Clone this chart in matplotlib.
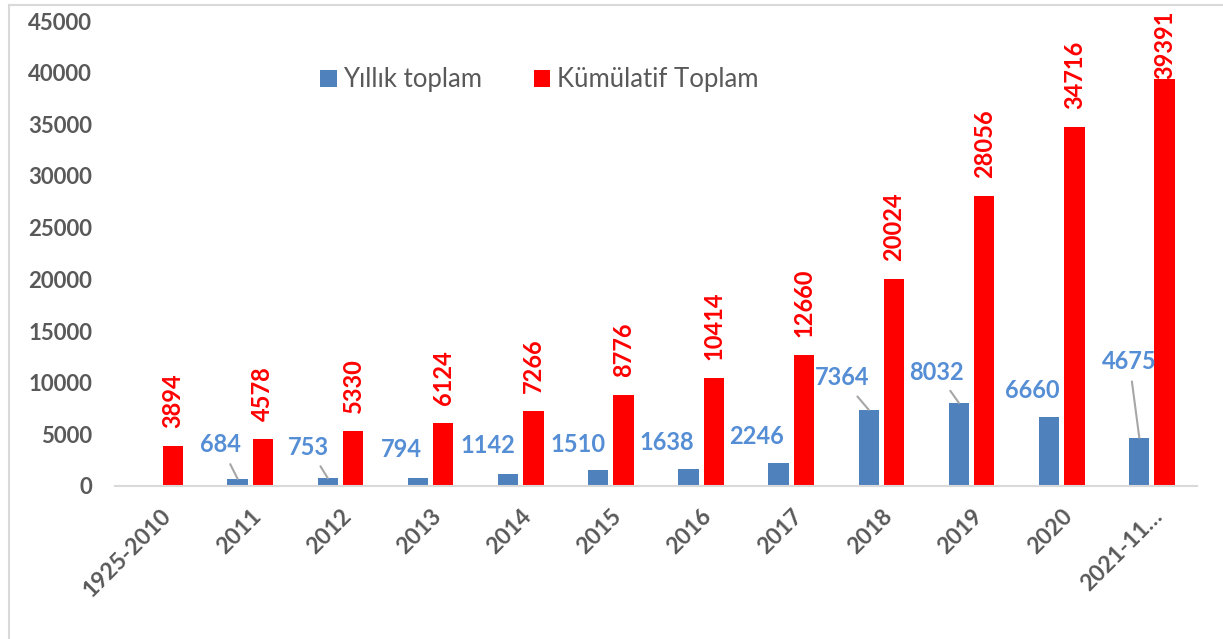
import numpy as np
import matplotlib.pyplot as plt
from matplotlib.lines import Line2D

# chart data
categories = ['1925-2010', '2011', '2012', '2013', '2014', '2015', '2016',
              '2017', '2018', '2019', '2020', '2021-11…']
yearly = [np.nan, 684, 753, 794, 1142, 1510, 1638, 2246, 7364, 8032, 6660, 4675]
cumulative = [3894, 4578, 5330, 6124, 7266, 8776, 10414, 12660, 20024, 28056, 34716, 39391]

# label placement for the blue labels (pixels from bar top centre) and leader flags
blue_dx = [0, -17, -19, -17, -20, -20, -22, -22, -27, -22, -17, -10]
blue_dy = [0, 34, 31, 28, 29, 26, 27, 26, 32, 31, 27, 76]
leader = [False, True, True, False, False, False, False, False, True, True, False, True]

plt.rcParams['font.family'] = ['Lato', 'DejaVu Sans']

blue = '#4F81BD'
blue_txt = '#558ED5'
red = '#FF0000'
gray_txt = '#595959'

fig = plt.figure(figsize=(12.23, 6.39), dpi=100)
ax = fig.add_axes([115 / 1223, 1 - 486 / 639, (1197 - 115) / 1223, (486 - 21) / 639])

x = np.arange(len(categories))
w = 0.225
off = 0.14
b1 = ax.bar(x - off, yearly, w, color=blue, label='Yıllık toplam')
b2 = ax.bar(x + off, cumulative, w, color=red, label='Kümülatif Toplam')

px = 0.72  # points per pixel at 100 dpi
for i, v in enumerate(yearly):
    if np.isnan(v):
        continue
    ap = None
    if leader[i]:
        ap = dict(arrowstyle='-', color='#A6A6A6', lw=1.5, shrinkA=4, shrinkB=0)
    ax.annotate(str(v), xy=(x[i] - off, v), xytext=(blue_dx[i] * px, blue_dy[i] * px),
                textcoords='offset points', ha='center', va='center',
                fontsize=17, fontweight='bold', color=blue_txt,
                arrowprops=ap, annotation_clip=False)

for i, v in enumerate(cumulative):
    gap = 13 if i < len(cumulative) - 1 else 0
    ax.annotate(str(v), xy=(x[i] + off, v), xytext=(0, gap), textcoords='offset points',
                ha='center', va='bottom', rotation=90, fontsize=17,
                fontweight='bold', color=red, annotation_clip=False)

ax.set_xlim(-0.5, len(categories) - 0.5)
ax.set_ylim(0, 45000)
ax.set_yticks(np.arange(0, 45001, 5000))
ax.set_xticks(x)
ax.set_xticklabels(categories, rotation=45, ha='right', rotation_mode='anchor')
ax.tick_params(axis='both', length=0, labelcolor=gray_txt)
ax.tick_params(axis='y', pad=16.5, labelsize=16)
ax.tick_params(axis='x', pad=14, labelsize=16.5)
for lab in ax.get_xticklabels() + ax.get_yticklabels():
    lab.set_fontweight('bold')

for s in ['left', 'right', 'top']:
    ax.spines[s].set_visible(False)
ax.spines['bottom'].set_color('#D9D9D9')
ax.spines['bottom'].set_linewidth(1.5)

ax.legend(handles=[b1, b2], loc='center left',
          bbox_to_anchor=(320 / 1223, 1 - 80 / 639), bbox_transform=fig.transFigure,
          ncol=2, frameon=False, fontsize=18.5, labelcolor=gray_txt,
          handlelength=0.65, handleheight=0.65, handletextpad=0.25,
          columnspacing=2.0, borderpad=0, borderaxespad=0)

# frame of the original picture (left and top edges)
fig.add_artist(Line2D([9 / 1223, 9 / 1223], [0, 1 - 5 / 639], transform=fig.transFigure,
                      color='#D9D9D9', lw=1.5))
fig.add_artist(Line2D([9 / 1223, 1], [1 - 5 / 639, 1 - 5 / 639], transform=fig.transFigure,
                      color='#D9D9D9', lw=1.5))

fig.savefig('out.png', dpi=100)
